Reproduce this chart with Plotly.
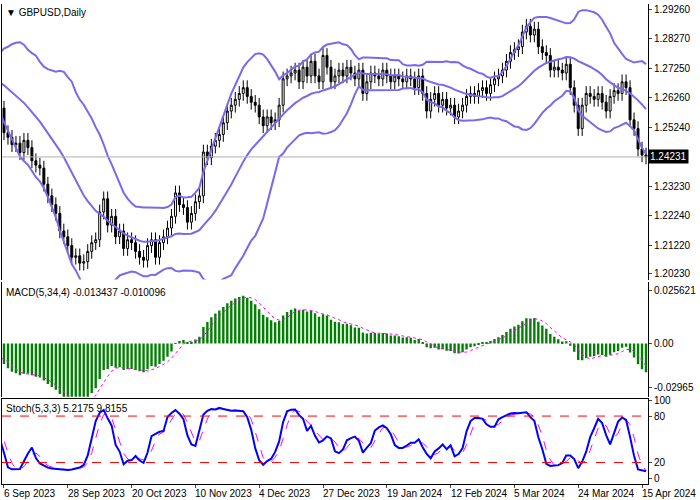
import numpy as np
import pandas as pd
import plotly.graph_objects as go

# August 2023 closes (off screen, only feed the indicators)
pre_closes = [
    1.2780, 1.2750, 1.2720, 1.2700, 1.2710, 1.2690, 1.2730, 1.2700, 1.2680, 1.2710,
    1.2720, 1.2760, 1.2730, 1.2700, 1.2740, 1.2720, 1.2680, 1.2640, 1.2630, 1.2590,
    1.2600, 1.2650, 1.2620, 1.2660, 1.2590,
]
# daily closes, 5 Sep 2023 .. 16 Apr 2024
closes = [
    1.2506, 1.2490, 1.2465, 1.2470, 1.2438,
    1.2480, 1.2455, 1.2410, 1.2395, 1.2385,
    1.2330, 1.2290, 1.2260, 1.2230, 1.2170,
    1.2150, 1.2120, 1.2080, 1.2085, 1.2060,
    1.2065, 1.2100, 1.2130, 1.2140, 1.2235,
    1.2280, 1.2190, 1.2220, 1.2150, 1.2170,
    1.2110, 1.2140, 1.2130, 1.2100, 1.2080,
    1.2070, 1.2120, 1.2140, 1.2080, 1.2130,
    1.2150, 1.2180, 1.2220, 1.2300, 1.2260,
    1.2250, 1.2200, 1.2230, 1.2270, 1.2290,
    1.2440, 1.2420, 1.2460, 1.2480, 1.2500,
    1.2540, 1.2580, 1.2600, 1.2620, 1.2640,
    1.2660, 1.2630, 1.2610, 1.2600, 1.2560,
    1.2530, 1.2560, 1.2540, 1.2550, 1.2600,
    1.2690, 1.2700, 1.2710, 1.2720, 1.2680,
    1.2730, 1.2700, 1.2750, 1.2700, 1.2680,
    1.2770, 1.2730, 1.2680, 1.2700, 1.2720,
    1.2700, 1.2730, 1.2710, 1.2690, 1.2720,
    1.2640, 1.2680, 1.2710, 1.2700, 1.2690,
    1.2720, 1.2700, 1.2680, 1.2700, 1.2690,
    1.2680, 1.2700, 1.2690, 1.2660, 1.2700,
    1.2640, 1.2580, 1.2620, 1.2640, 1.2600,
    1.2620, 1.2590, 1.2600, 1.2560, 1.2580,
    1.2600, 1.2630, 1.2640, 1.2630, 1.2650,
    1.2660, 1.2640, 1.2670, 1.2690, 1.2700,
    1.2720, 1.2750, 1.2780, 1.2790, 1.2800,
    1.2850, 1.2870, 1.2840, 1.2860, 1.2800,
    1.2780, 1.2770, 1.2720, 1.2730, 1.2720,
    1.2710, 1.2740, 1.2660, 1.2600, 1.2520,
    1.2600, 1.2640, 1.2630, 1.2620, 1.2640,
    1.2610, 1.2580, 1.2630, 1.2650, 1.2640,
    1.2680, 1.2660, 1.2550, 1.2520, 1.2450,
    1.2430, 1.2423,
]
date_labels = ["6 Sep 2023", "28 Sep 2023", "20 Oct 2023", "10 Nov 2023", "4 Dec 2023",
               "27 Dec 2023", "19 Jan 2024", "12 Feb 2024", "5 Mar 2024", "24 Mar 2024",
               "15 Apr 2024"]
price_ticks = [1.29260, 1.28270, 1.27250, 1.26260, 1.25240, 1.23230, 1.22240, 1.21220, 1.20230]
last_price = 1.24231

npre = len(pre_closes)
c = pd.Series(pre_closes + closes)
o = c.shift(1).fillna(c.iloc[0])
hi = np.maximum(o, c) + 0.0025
lo = np.minimum(o, c) - 0.0025
x = np.arange(len(c)) - npre

# Bollinger 20,2
mid = c.rolling(20, min_periods=5).mean()
sd = c.rolling(20, min_periods=5).std(ddof=0)
up, dn = mid + 2 * sd, mid - 2 * sd

# MACD 5,34,4 (MT4 style)
macd = c.ewm(span=5, adjust=False).mean() - c.ewm(span=34, adjust=False).mean()
sig = macd.rolling(4, min_periods=1).mean()

# Stoch 5,3,3
ll = lo.rolling(5, min_periods=1).min()
hh = hi.rolling(5, min_periods=1).max()
k = 100 * (c - ll).rolling(3, min_periods=1).sum() / (hh - ll).rolling(3, min_periods=1).sum()
d = k.rolling(3, min_periods=1).mean()

band = dict(color="#7b68ee", width=2)
fig = go.Figure()
fig.add_trace(go.Candlestick(x=x, open=o, high=hi, low=lo, close=c,
                             increasing=dict(line=dict(color="black", width=1), fillcolor="white"),
                             decreasing=dict(line=dict(color="black", width=1), fillcolor="black"),
                             whiskerwidth=0, yaxis="y"))
for s in (up, mid, dn):
    fig.add_trace(go.Scatter(x=x, y=s, mode="lines", line=band, yaxis="y"))
fig.add_trace(go.Bar(x=x, y=macd, marker_color="#008000", marker_line_width=0, width=0.6, yaxis="y2"))
fig.add_trace(go.Scatter(x=x, y=sig, mode="lines", line=dict(color="#ff00ff", width=1, dash="dot"), yaxis="y2"))
fig.add_trace(go.Scatter(x=x, y=d, mode="lines", line=dict(color="#ff00ff", width=1, dash="dash"), yaxis="y3"))
fig.add_trace(go.Scatter(x=x, y=k, mode="lines", line=dict(color="#0000ff", width=2), yaxis="y3"))

fnt = dict(family="Liberation Sans", size=10, color="black")
ax = dict(side="right", showgrid=False, zeroline=False, showline=True, linecolor="black",
          mirror=True, ticks="outside", ticklen=3, tickfont=fnt)
ticks_x = list(range(0, len(closes), 16))
annotations = [
    dict(text="▼ GBPUSD,Daily", xref="paper", yref="paper", x=0.003, y=0.998,
         xanchor="left", yanchor="top", showarrow=False, font=fnt),
    dict(text="MACD(5,34,4) -0.013437 -0.010096", xref="paper", yref="paper", x=0.003, y=0.415,
         xanchor="left", yanchor="top", showarrow=False, font=fnt),
    dict(text="Stoch(5,3,3) 5.2175 9.8155", xref="paper", yref="paper", x=0.003, y=0.172,
         xanchor="left", yanchor="top", showarrow=False, font=fnt),
    dict(text="1.24231", xref="paper", yref="y", x=1.0, y=last_price, xanchor="left",
         showarrow=False, bgcolor="black", font=dict(fnt, color="white"), borderpad=1),
]
for i, lab in zip(ticks_x, date_labels):
    annotations.append(dict(text=lab, x=i - 0.5, xref="x", y=0, yref="paper", yshift=-2,
                            xanchor="left", yanchor="top", showarrow=False, font=fnt))

fig.update_layout(
    width=700, height=500, margin=dict(l=1, r=52, t=1, b=16),
    paper_bgcolor="white", plot_bgcolor="white", showlegend=False, font=fnt,
    xaxis=dict(range=[-0.5, len(closes) - 0.5], showgrid=False, showline=True, linecolor="black",
               mirror=True, rangeslider=dict(visible=False), tickvals=ticks_x,
               showticklabels=False, ticks="outside", ticklen=3, anchor="y3"),
    yaxis=dict(ax, domain=[0.426, 1], range=[1.2004, 1.2946], tickvals=price_ticks,
               ticktext=[f"{v:.5f}" for v in price_ticks]),
    yaxis2=dict(ax, domain=[0.182, 0.421], range=[-0.026, 0.030],
                tickvals=[0.0256, 0, -0.0215], ticktext=["0.025621", "0.00", "-0.02965"]),
    yaxis3=dict(ax, domain=[0, 0.178], range=[-7.7, 102.6],
                tickvals=[100, 80, 20, 0], ticktext=["100", "80", "20", "0"]),
    shapes=[
        dict(type="line", xref="x domain", x0=0, x1=1, yref="y", y0=last_price, y1=last_price,
             line=dict(color="#b0b0b0", width=1)),
        dict(type="line", xref="x domain", x0=0, x1=1, yref="y3", y0=80, y1=80,
             line=dict(color="red", width=1, dash="dash")),
        dict(type="line", xref="x domain", x0=0, x1=1, yref="y3", y0=20, y1=20,
             line=dict(color="red", width=1, dash="dash")),
    ],
    annotations=annotations,
)
fig.write_html("out.html", config={"displayModeBar": False},
               post_script="document.body.style.margin='0';")
